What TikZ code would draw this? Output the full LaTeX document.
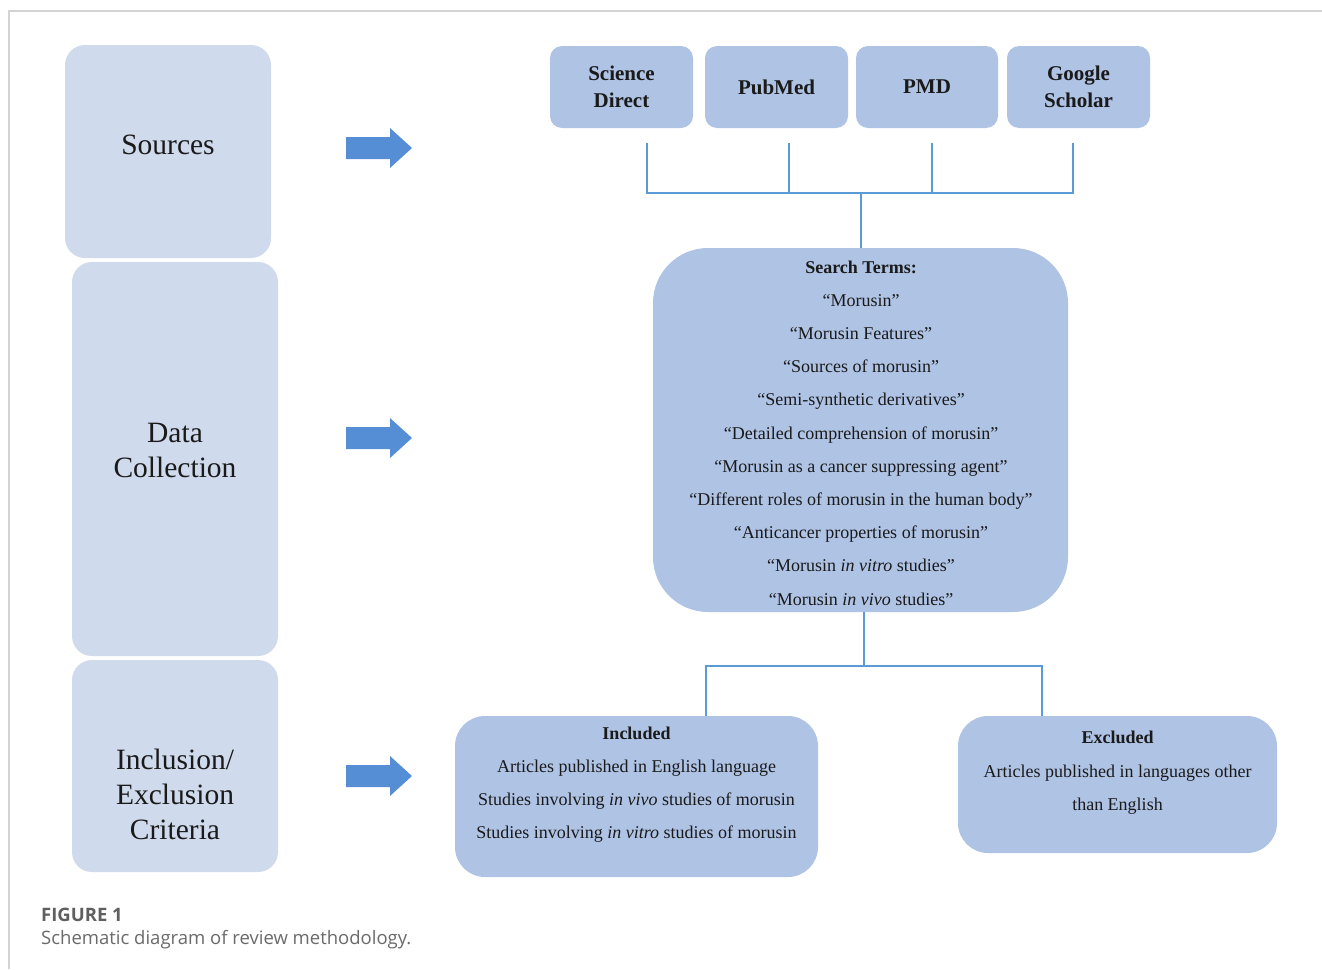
\documentclass[tikz,border=0pt]{standalone}
\usepackage{fontspec}
\setmainfont{Liberation Serif}
\newfontfamily\capfont{Open Sans}
\definecolor{leftbox}{HTML}{CFDBEC}
\definecolor{rightbox}{HTML}{AFC3E5}
\definecolor{arrowblue}{HTML}{558ED5}
\definecolor{linkblue}{HTML}{5B9BD5}
\definecolor{framegray}{HTML}{D4D4D4}
\definecolor{capgray}{HTML}{6A6A6A}
\definecolor{txt}{HTML}{1A1A1A}
\begin{document}
\begin{tikzpicture}[x=1pt,y=-1pt,
  stagebox/.style={rectangle, fill=leftbox, rounded corners=20pt, inner sep=0pt, minimum width=206pt},
  stagetext/.style={align=center, text=txt, font=\fontsize{29.5}{35}\selectfont, inner sep=0pt},
  srcbox/.style={rectangle, fill=rightbox, rounded corners=12pt, minimum width=143pt, minimum height=82pt, inner sep=0pt, align=center, text=txt, font=\fontsize{21}{27}\selectfont\bfseries},
  bigbox/.style={rectangle, fill=rightbox, inner sep=0pt},
  boxtext/.style={align=center, text=txt, inner sep=0pt},
  link/.style={draw=linkblue, line width=2.3pt},
  bigarrow/.style={fill=arrowblue}
]
\useasboundingbox (0,0) rectangle (1322,969);
% frame
\draw[framegray, line width=1.6pt] (9,969) -- (9,11) -- (1322,11);

% left stage boxes
\node[stagebox, minimum height=213pt] (srcstage) at (168,151.5) {};
\node[stagebox, minimum height=394pt] (datastage) at (175,459) {};
\node[stagebox, minimum height=212pt] (incstage) at (175,766) {};
\node[stagetext] (srcstageT) at (168,145) {Sources};
\node[stagetext] (datastageT) at (175,450) {Data\\Collection};
\node[stagetext] (incstageT) at (175,794) {Inclusion/\\Exclusion\\Criteria};

% block arrows
\foreach \yy in {148,438,776}{
  \fill[bigarrow] (346,\yy-11) -- (390,\yy-11) -- (390,\yy-20) -- (412,\yy) -- (390,\yy+20) -- (390,\yy+11) -- (346,\yy+11) -- cycle;
}

% sources
\node[srcbox] (sd) at (621.5,87) {Science\\Direct};
\node[srcbox] (pm) at (776.5,87) {PubMed};
\node[srcbox, minimum width=142pt] (pmd) at (927,87) {PMD};
\node[srcbox] (gs) at (1078.5,87) {Google\\Scholar};

% search terms
\node[bigbox, rounded corners=55pt, minimum width=415pt, minimum height=364pt] (search) at (860.5,430) {};
\node[boxtext, font=\fontsize{18}{33.2}\selectfont] (searchT) at (861,433) {%
  \textbf{Search Terms:}\\
  “Morusin\symbol{34}\\
  “Morusin Features”\\
  “Sources of morusin”\\
  “Semi-synthetic derivatives”\\
  “Detailed comprehension of morusin”\\
  “Morusin as a cancer suppressing agent”\\
  “Different roles of morusin in the human body”\\
  “Anticancer properties of morusin”\\
  “Morusin \textit{in vitro} studies”\\
  “Morusin \textit{in vivo} studies”};

% included / excluded
\node[bigbox, rounded corners=30pt, minimum width=363pt, minimum height=161pt] (incl) at (636.5,796.5) {};
\node[boxtext, font=\fontsize{18}{33}\selectfont] (inclT) at (636.5,785) {%
  \textbf{Included}\\
  Articles published in English language\\
  Studies involving \textit{in vivo} studies of morusin\\
  Studies involving \textit{in vitro} studies of morusin};
\node[bigbox, rounded corners=30pt, minimum width=319pt, minimum height=137pt] (excl) at (1117.5,784.5) {};
\node[boxtext, font=\fontsize{18}{33.5}\selectfont] (exclT) at (1117.5,773) {%
  \textbf{Excluded}\\
  Articles published in languages other\\
  than English};

% connectors
\coordinate (c1) at (647,143);
\coordinate (c2) at (789,143);
\coordinate (c3) at (932,143);
\coordinate (c4) at (1073,143);
\coordinate (hub) at (861,193);
\draw[link] (c1) -- (c1 |- hub) -- (c4 |- hub) -- (c4);
\draw[link] (c2) -- (c2 |- hub);
\draw[link] (c3) -- (c3 |- hub);
\draw[link] (hub) -- (hub |- search.north);

\coordinate (hub2) at (864,666);
\coordinate (i1) at (706,666);
\coordinate (e1) at (1042,666);
\draw[link] (hub2 |- search.south) -- (hub2);
\draw[link] (i1 |- incl.north) -- (i1) -- (e1) -- (e1 |- excl.north);

% caption
\node[anchor=west, inner sep=0pt, text=capgray!90!black, font=\capfont\bfseries\fontsize{18.5}{22}\selectfont] (figlabel) at (41,915) {FIGURE 1};
\node[anchor=west, inner sep=0pt, text=capgray, font=\capfont\fontsize{18.5}{22}\selectfont] (figcap) at (41,940) {Schematic diagram of review methodology.};
\end{tikzpicture}
\end{document}
